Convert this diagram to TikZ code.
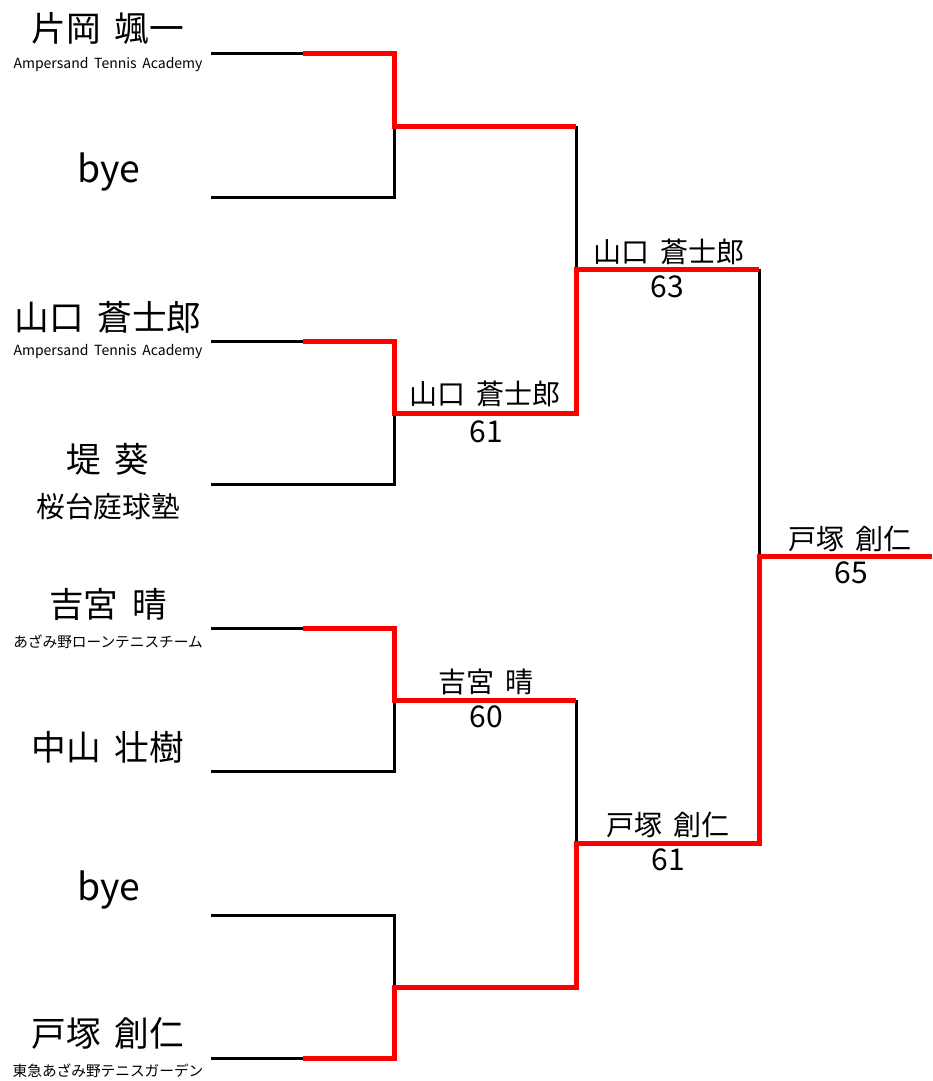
\documentclass[tikz,border=0pt]{standalone}
\usepackage{fontspec}
\setmainfont[WordSpace=1.8]{Noto Sans CJK JP}
\begin{document}
\begin{tikzpicture}[x=0.75pt,y=-0.75pt,
  bk/.style={line width=2.25pt, draw=black, line join=miter},
  rd/.style={line width=3.75pt, draw=red, line join=miter},
  pname/.style={font=\fontsize{26}{30}\selectfont, inner sep=0pt},
  byename/.style={font=\fontsize{28}{32}\selectfont, inner sep=0pt},
  affen/.style={font=\fontsize{10.5}{12}\selectfont, inner sep=0pt},
  affjp/.style={font=\fontsize{11}{13}\selectfont, inner sep=0pt},
  affbig/.style={font=\fontsize{21.5}{24}\selectfont, inner sep=0pt},
  wl/.style={font=\fontsize{21}{24}\selectfont, inner sep=0pt},
  sc/.style={font=\fontsize{22.5}{26}\selectfont, inner sep=0pt}]
\useasboundingbox (0,0) rectangle (932,1081);
% entrant line coordinates
\foreach \i/\y in {1/54,2/197,3/341,4/484,5/628,6/771,7/915,8/1058}{
  \coordinate (s\i) at (211,\y);
  \coordinate (h\i) at (303,\y);
  \coordinate (e\i) at (394,\y);
}
% round 1 outputs
\coordinate (q1) at (394,126); \coordinate (q1e) at (576,126);
\coordinate (q2) at (394,413); \coordinate (q2e) at (576,413);
\coordinate (q3) at (394,700); \coordinate (q3e) at (576,700);
\coordinate (q4) at (394,987); \coordinate (q4e) at (576,987);
% round 2 outputs
\coordinate (t1) at (576,269); \coordinate (t1e) at (759,269);
\coordinate (t2) at (576,843); \coordinate (t2e) at (759,843);
% final
\coordinate (f) at (759,556); \coordinate (fe) at (932,556);

% black bracket
\draw[bk] (s1) -- (e1) -- (e2) -- (s2);
\draw[bk] (s3) -- (e3) -- (e4) -- (s4);
\draw[bk] (s5) -- (e5) -- (e6) -- (s6);
\draw[bk] (s7) -- (e7) -- (e8) -- (s8);
\draw[bk] (q1e) -- (q2e);
\draw[bk] (q3e) -- (q4e);
\draw[bk] (t1e) -- (t2e);

% red winning paths
\draw[rd] (h1) -- (e1) -- (q1) -- (q1e);
\draw[rd] (h3) -- (e3) -- (q2) -- (q2e) -- (t1) -- (t1e);
\draw[rd] (h5) -- (e5) -- (q3) -- (q3e);
\draw[rd] (h8) -- (e8) -- (q4) -- (q4e) -- (t2) -- (t2e) -- (f) -- (fe);

% entrants
\node[pname] (p1) at (108,29) {片岡 颯一};
\node[affen] (a1) at (108,65) {Ampersand Tennis Academy};
\node[byename] (p2) at (109,172) {bye};
\node[pname] (p3) at (108,317) {山口 蒼士郎};
\node[affen] (a3) at (108,352) {Ampersand Tennis Academy};
\node[pname] (p4) at (108,459) {堤 葵};
\node[affbig] (a4) at (108,507) {桜台庭球塾};
\node[pname] (p5) at (108,604) {吉宮 晴};
\node[affjp] (a5) at (108,642) {あざみ野ローンテニスチーム};
\node[pname] (p6) at (108,747) {中山 壮樹};
\node[byename] (p7) at (109,890) {bye};
\node[pname] (p8) at (108,1033) {戸塚 創仁};
\node[affjp] (a8) at (108,1071) {東急あざみ野テニスガーデン};

% match results
\node[wl] (w2) at (485,394) {山口 蒼士郎};
\node[sc] (c2) at (486,432) {61};
\node[wl] (w3) at (486,682) {吉宮 晴};
\node[sc] (c3) at (486,717) {60};
\node[wl] (v1) at (669,252) {山口 蒼士郎};
\node[sc] (d1) at (667,287) {63};
\node[wl] (v2) at (668,825) {戸塚 創仁};
\node[sc] (d2) at (668,860) {61};
\node[wl] (fw) at (850,539) {戸塚 創仁};
\node[sc] (fs) at (851,573) {65};
\end{tikzpicture}
\end{document}
